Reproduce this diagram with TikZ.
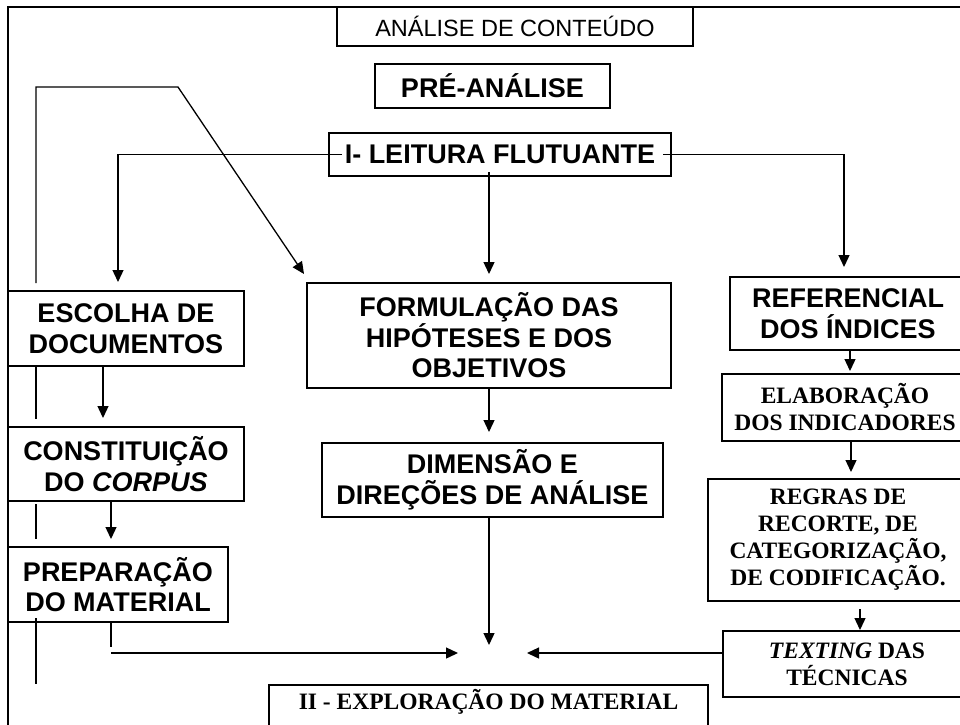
\documentclass[tikz,border=0pt]{standalone}
\usepackage{fontspec}
\usetikzlibrary{arrows.meta,calc,backgrounds}
\newfontfamily\sansf{Liberation Sans}
\newfontfamily\seriff{Liberation Serif}
\begin{document}
\begin{tikzpicture}[x=1pt,y=-1pt,
  box/.style={draw, line width=2pt, fill=white, inner sep=0pt, align=center},
  sbox/.style={box, font=\sansf\bfseries\fontsize{27}{30.5}\selectfont},
  tbox/.style={box, font=\seriff\bfseries\fontsize{23.5}{27}\selectfont},
  conn/.style={line width=1.3pt},
  arr/.style={conn, -{Triangle[length=12pt,width=11pt]}}]
\useasboundingbox (0,0) rectangle (960,724);
\clip (0,0) rectangle (960,724);
% outer frame
\draw[line width=2pt] (8,760) -- (8,7) -- (980,7);
% nodes
\node[box, font=\sansf\fontsize{23.5}{27}\selectfont, minimum width=356pt, minimum height=39pt] (title) at (515,26.5) {ANÁLISE DE CONTEÚDO};
\node[sbox, minimum width=235pt, minimum height=44pt] (pre) at (492.5,86) {PRÉ-ANÁLISE};
\node[sbox, minimum width=342pt, minimum height=43pt] (leitura) at (500,154.5) {I- LEITURA FLUTUANTE};
\node[sbox, minimum width=236pt, minimum height=75pt] (escolha) at (126,328.5) {ESCOLHA DE\\DOCUMENTOS};
\node[sbox, minimum width=236pt, minimum height=74pt] (constituicao) at (126,464) {CONSTITUIÇÃO\\DO \textit{CORPUS}};
\node[sbox, minimum width=220pt, minimum height=75pt] (preparacao) at (118,584.5) {PREPARAÇÃO\\DO MATERIAL};
\node[sbox, minimum width=364pt, minimum height=105pt] (formulacao) at (489,335.5) {FORMULAÇÃO DAS\\HIPÓTESES E DOS\\OBJETIVOS};
\node[sbox, minimum width=341pt, minimum height=74pt] (dimensao) at (492.5,480) {DIMENSÃO E\\DIREÇÕES DE ANÁLISE};
\node[sbox, minimum width=236pt, minimum height=73pt] (referencial) at (848,313.5) {REFERENCIAL\\DOS ÍNDICES};
\node[tbox, minimum width=246pt, minimum height=67pt] (elaboracao) at (845,407.5) {ELABORAÇÃO\\DOS INDICADORES};
\node[tbox, minimum width=260pt, minimum height=122pt] (regras) at (838,540) {REGRAS DE\\RECORTE, DE\\CATEGORIZAÇÃO,\\DE CODIFICAÇÃO.};
\node[tbox, minimum width=248pt, minimum height=66pt] (texting) at (847,664) {\textit{TEXTING} DAS\\TÉCNICAS};
\node[tbox, anchor=north, minimum width=439pt, text height=16pt, text depth=40pt, inner ysep=8pt] (explor) at (488.5,684) {II - EXPLORAÇÃO DO MATERIAL};
% coordinates
\coordinate (hub) at (489,653);
\coordinate (lbot) at (36,684);
\coordinate (ltop) at (36,87);
\coordinate (lbend) at (178,87);
\coordinate (lstart) at (36,283);
% left loop line, drawn in pieces between the boxes
\draw[arr] (lstart) -- (ltop) -- (lbend) -- ($(formulacao.north west)+(-2,-8)$);
\draw[conn] (escolha.south -| ltop) -- ($(constituicao.north -| ltop)+(0,-7)$);
\draw[conn] ($(constituicao.south -| ltop)+(0,2)$) -- ($(preparacao.north -| ltop)+(0,-7)$);
\draw[conn] ($(preparacao.south -| ltop)+(0,-5)$) -- (lbot);
% connectors
\draw[arr] ($(leitura.west)+(14,0)$) -| ($(escolha.north)+(-8,-8)$);
\draw[arr] ($(leitura.east)+(-9,0)$) -| ($(referencial.north)+(-4,-9)$);
\draw[arr] ($(leitura.south -| formulacao.north)+(0,-5)$) -- ($(formulacao.north)+(0,-8)$);
\draw[arr] ($(escolha.south)+(-23,0)$) -- ($(constituicao.north)+(-23,-8)$);
\draw[arr] ($(constituicao.south)+(-15,0)$) -- ($(preparacao.north)+(-7,-7)$);
\draw[conn] ($(preparacao.south)+(-7,0)$) -- ($(preparacao.south)+(-7,24)$);
\draw[arr] ($(preparacao.south |- hub)+(-7,0)$) -- ($(hub)+(-31,0)$);
\draw[arr] (formulacao.south) -- ($(formulacao.south |- dimensao.north)+(0,-10)$);
\draw[arr] (dimensao.south -| hub) -- ($(hub)+(0,-8)$);
\draw[arr] (texting.west |- hub) -- ($(hub)+(38,0)$);
\draw[arr] ($(referencial.south)+(2,0)$) -- ($(elaboracao.north)+(5,-2)$);
\draw[arr] ($(elaboracao.south)+(6,0)$) -- ($(regras.north)+(13,-6)$);
\draw[arr] ($(regras.south)+(22,7)$) -- ($(texting.north)+(13,0)$);
\end{tikzpicture}
\end{document}
